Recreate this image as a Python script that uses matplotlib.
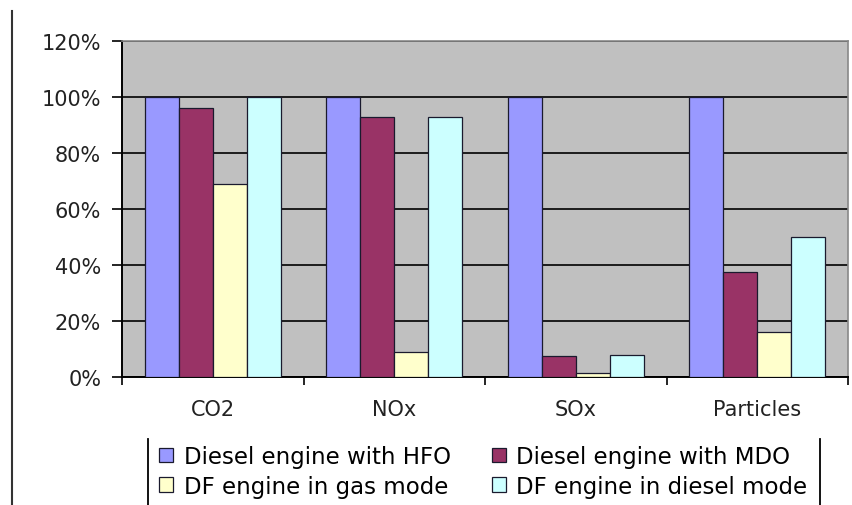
import numpy as np
import matplotlib
matplotlib.use("Agg")
import matplotlib.pyplot as plt
from matplotlib.lines import Line2D

plt.rcParams['font.family'] = ['DejaVu Sans']

categories = ['CO2', 'NOx', 'SOx', 'Particles']
series_names = ['Diesel engine with HFO', 'Diesel engine with MDO',
                'DF engine in gas mode', 'DF engine in diesel mode']
hfo = [100, 100, 100, 100]
mdo = [96, 93, 7.5, 37.5]
gas = [69, 9, 1.5, 16]
diesel = [100, 93, 8, 50]
colors = ['#9999ff', '#993366', '#ffffcc', '#ccffff']

W, H = 852, 506
fig = plt.figure(figsize=(W / 100, H / 100), dpi=100)
ax = fig.add_axes([122 / W, (H - 378) / H, 726 / W, 336 / H])
ax.set_facecolor('#c0c0c0')

x = np.arange(len(categories))
bw = 0.187
bars = []
for i, (vals, c) in enumerate(zip([hfo, mdo, gas, diesel], colors)):
    b = ax.bar(x - 1.5 * bw + i * bw, vals, bw, color=c, edgecolor='#1a1a2e',
               linewidth=0.9, label=series_names[i], zorder=3)
    bars.append(b)

ax.set_xlim(-0.5, 3.5)
ax.set_ylim(0, 120)
ax.set_yticks(np.arange(0, 121, 20))
ax.set_yticklabels([f'{v}%' for v in range(0, 121, 20)], fontsize=15, color='#222222')
ax.yaxis.grid(True, color='black', linewidth=1.2, zorder=1)
ax.set_axisbelow(True)

ax.set_xticks(x)
ax.set_xticklabels(categories, fontsize=15, color='#222222')
ax.tick_params(axis='x', length=0, pad=16)
ax.set_xticks(np.arange(-0.5, 4, 1), minor=True)
ax.tick_params(axis='x', which='minor', length=6, width=1.2, direction='out')
ax.tick_params(axis='y', length=7, width=1.2, direction='out', pad=8)

for s in ['top', 'right']:
    ax.spines[s].set_color('#888888')
    ax.spines[s].set_linewidth(1.2)
for s in ['left', 'bottom']:
    ax.spines[s].set_color('black')
    ax.spines[s].set_linewidth(1.4)

# frame line on the left of the picture
fig.add_artist(Line2D([12 / W, 12 / W], [0, 1 - 12 / H], color='#333333',
                      linewidth=1.5, transform=fig.transFigure))

# row-wise legend order
order = [0, 2, 1, 3]
leg = fig.legend([bars[i] for i in order], [series_names[i] for i in order],
                 ncol=2, loc='upper left',
                 bbox_to_anchor=(159 / W, 1 - 446 / H), fontsize=16.5,
                 frameon=False,
                 handlelength=0.62, handleheight=0.62, handletextpad=0.45,
                 columnspacing=1.8, borderpad=0, borderaxespad=0,
                 labelspacing=0.3)
# legend box sides (top and bottom are not visible in the picture)
for xb in (148, 820):
    fig.add_artist(Line2D([xb / W, xb / W], [0, 1 - 440 / H], color='black',
                          linewidth=1.3, transform=fig.transFigure))

fig.savefig('out.png', dpi=100, facecolor='white')
